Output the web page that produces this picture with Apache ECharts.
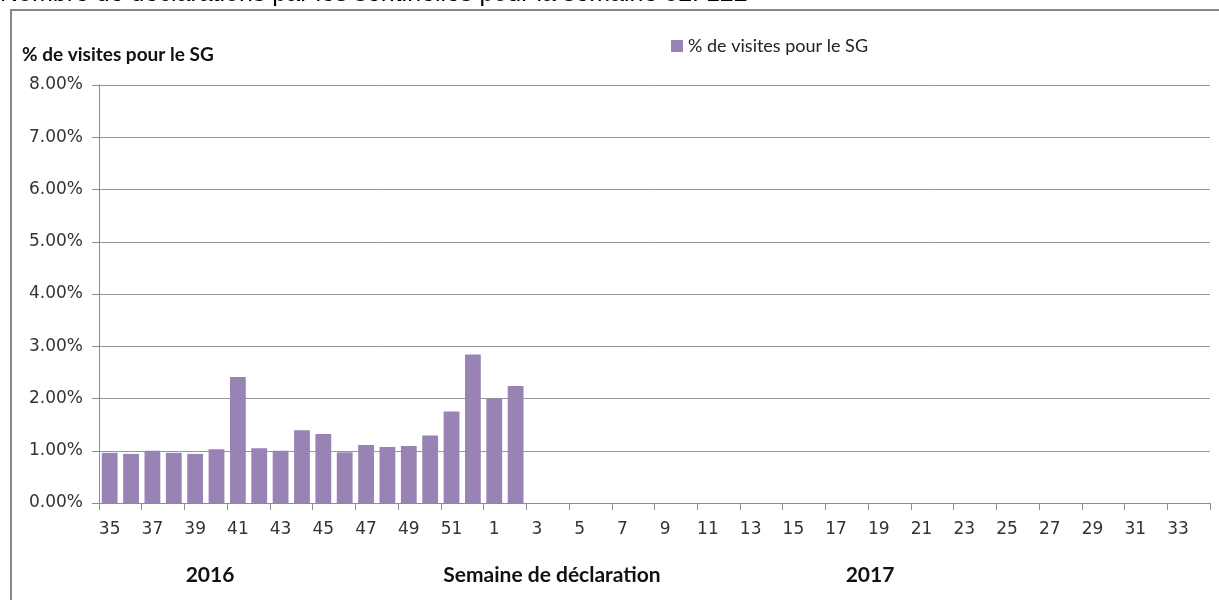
<!DOCTYPE html>
<html>
<head>
<meta charset="utf-8">
<script src="https://cdn.jsdelivr.net/npm/echarts@6/dist/echarts.min.js"></script>
<style>
html,body{margin:0;padding:0;background:#fff;}
#chart{width:1219px;height:600px;}
</style>
</head>
<body>
<div id="chart"></div>
<script>
// Weeks 35-52 of 2016, then weeks 1-34 of 2017
const weeks = [35,36,37,38,39,40,41,42,43,44,45,46,47,48,49,50,51,52,
  1,2,3,4,5,6,7,8,9,10,11,12,13,14,15,16,17,18,19,20,21,22,23,24,25,26,27,28,29,30,31,32,33,34];
const categories = weeks.map(String);
// % de visites pour le SG (percent)
const pctSG = [0.96,0.94,1.00,0.96,0.94,1.03,2.41,1.05,1.00,1.39,1.32,0.97,1.11,1.07,1.09,1.29,1.75,2.84,
  2.00,2.24];
const seriesName = '% de visites pour le SG';
const yTicks = {min:0, max:8, interval:1};
const titleText = 'Nombre de déclarations par les sentinelles pour la semaine 02: 122';
const yearLabels = ['2016','2017'];
const xAxisTitle = 'Semaine de déclaration';

const chart = echarts.init(document.getElementById('chart'));
const grey = '#8c8c8c';
chart.setOption({
  animation:false,
  backgroundColor:'#fff',
  grid:{left:99,right:9,top:85,bottom:97,containLabel:false},
  legend:{
    data:[seriesName], left:666, top:32, itemWidth:12, itemHeight:12, itemGap:6,
    icon:'rect',
    textStyle:{fontFamily:'Lato',fontSize:18,color:'#222'}
  },
  graphic:[
    {type:'text', left:0, top:-18, style:{text:titleText, font:'25px "Liberation Sans"', fill:'#000'}},
    {type:'rect', shape:{x:11,y:10,width:1300,height:700}, style:{fill:null,stroke:'#878787',lineWidth:2}},
    {type:'text', x:22, y:55, style:{text:seriesName, font:'bold 19px Lato', fill:'#111', verticalAlign:'middle'}},
    {type:'text', x:210, y:575, style:{text:yearLabels[0], font:'bold 21px Lato', fill:'#111', align:'center', verticalAlign:'middle'}},
    {type:'text', x:552, y:575, style:{text:xAxisTitle, font:'bold 21px Lato', fill:'#111', align:'center', verticalAlign:'middle'}},
    {type:'text', x:870, y:575, style:{text:yearLabels[1], font:'bold 21px Lato', fill:'#111', align:'center', verticalAlign:'middle'}}
  ],
  xAxis:{
    type:'category', data:categories,
    axisLine:{lineStyle:{color:grey,width:1}},
    axisTick:{show:true,length:7,lineStyle:{color:grey}},
    axisLabel:{interval:1, margin:18, fontFamily:'DejaVu Sans', fontSize:17, color:'#333'}
  },
  yAxis:{
    type:'value', min:yTicks.min, max:yTicks.max, interval:yTicks.interval,
    axisLine:{show:true,lineStyle:{color:grey,width:1}},
    axisTick:{show:true,length:7,lineStyle:{color:grey}},
    splitLine:{lineStyle:{color:'#979797',width:1}},
    axisLabel:{margin:16, fontFamily:'DejaVu Sans', fontSize:17, color:'#333',
      formatter:v=>v.toFixed(2)+'%'}
  },
  series:[{
    name:seriesName, type:'bar', data:pctSG, barCategoryGap:'26%',
    itemStyle:{color:'#9883b4'}
  }]
});
</script>
</body>
</html>
